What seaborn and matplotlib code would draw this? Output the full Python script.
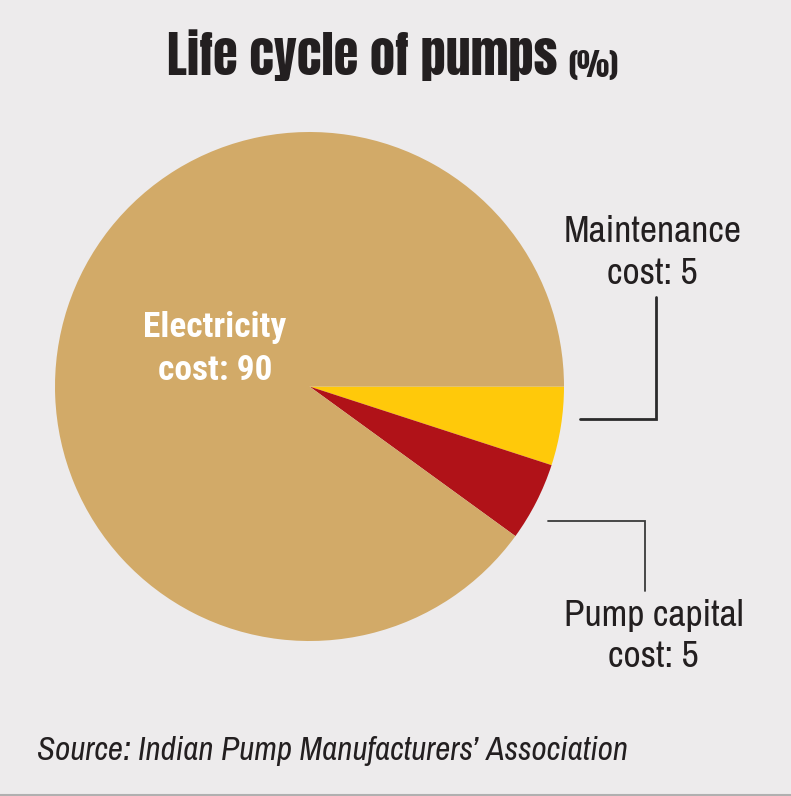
import matplotlib
matplotlib.use("Agg")
import matplotlib.pyplot as plt
import seaborn as sns
from matplotlib import font_manager

# ---- data ----
categories = ["Maintenance", "Pump capital", "Electricity"]
values = [5, 5, 90]
label_texts = ["Maintenance\ncost: 5", "Pump capital\ncost: 5", "Electricity\ncost: 90"]
title_main = "Life cycle of pumps"
title_unit = "(%)"
source_text = "Source: Indian Pump Manufacturers\u2019 Association"

sns.set_style("white")
names = {f.name for f in font_manager.fontManager.ttflist}

def pick(*cands):
    for c in cands:
        if c in names:
            return c
    return "DejaVu Sans"

body_font = pick("Archivo Narrow", "PT Sans Narrow", "Liberation Sans")
bold_font = pick("Roboto Condensed", "PT Sans Narrow", "Barlow Condensed", "Liberation Sans")
title_font = pick("Anton", "Oswald", "Liberation Sans")
plt.rcParams["font.family"] = [body_font, "DejaVu Sans"]

bg = "#EDEBEC"
ink = "#231f20"
colors = sns.color_palette(["#FFC90A", "#B01218", "#D2AA68"])

W, H = 791, 796
fig = plt.figure(figsize=(W / 100, H / 100), dpi=100, facecolor=bg)
ax = fig.add_axes([0, 0, 1, 1])
ax.set_facecolor(bg)

cx, cy, r = 309.5, H - 386.5, 254.5
ax.pie(values, colors=colors, startangle=0, counterclock=False,
       center=(cx, cy), radius=r, frame=True,
       wedgeprops=dict(linewidth=0))
ax.set_xlim(0, W)
ax.set_ylim(0, H)
ax.set_aspect("equal")
ax.axis("off")

def Y(py):
    return H - py

# leader lines
ax.plot([580, 656, 656], [Y(419), Y(419), Y(297)], color="#2b2b2b", lw=2.0,
        solid_joinstyle="miter")
ax.plot([548, 645, 645], [Y(521), Y(521), Y(591)], color="#3a3a3a", lw=1.3,
        solid_joinstyle="miter")

def draw_lines(text, x, baselines, **kw):
    for line, b in zip(text.split("\n"), baselines):
        ax.text(x, Y(b), line, ha="center", va="baseline", **kw)

draw_lines(label_texts[0], 652.5, [242, 284], fontsize=27, color=ink,
           family=[body_font, "DejaVu Sans"])
draw_lines(label_texts[1], 653.5, [626, 667], fontsize=27, color=ink,
           family=[body_font, "DejaVu Sans"])
draw_lines(label_texts[2], 215, [337, 380], fontsize=25.5, color="white",
           fontweight="bold", family=[bold_font, "DejaVu Sans"])

# title
ax.text(557, Y(75), title_main, ha="right", va="baseline", fontsize=36,
        color=ink, family=[title_font, "DejaVu Sans"])
ax.text(568, Y(77), title_unit, ha="left", va="baseline", fontsize=22,
        color=ink, family=[title_font, "DejaVu Sans"])

# source
ax.text(37, Y(760), source_text, ha="left", va="baseline", fontsize=23.8,
        style="italic", color=ink, family=[body_font, "DejaVu Sans"])

# bottom rule
ax.plot([0, W], [0.6, 0.6], color="#b0b0b0", lw=1.5)

fig.savefig("out.png", dpi=100, facecolor=bg)
